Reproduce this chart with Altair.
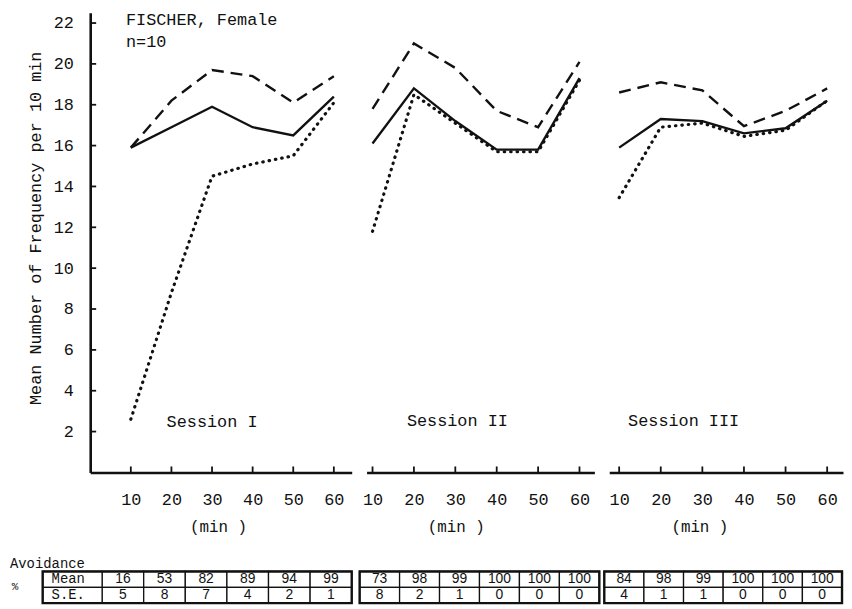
import altair as alt
import pandas as pd

# ---------------- data ----------------
minutes = [10, 20, 30, 40, 50, 60]
y_ticks = [2, 4, 6, 8, 10, 12, 14, 16, 18, 20, 22]
session_labels = ["Session I", "Session II", "Session III"]
series_names = ["solid", "dashed", "dotted"]
header_lines = ["FISCHER, Female", "n=10"]

s1_solid = [15.9, 16.9, 17.9, 16.9, 16.5, 18.4]
s1_dashed = [15.9, 18.2, 19.7, 19.4, 18.1, 19.4]
s1_dotted = [2.6, 8.8, 14.5, 15.1, 15.5, 18.1]

s2_solid = [16.1, 18.8, 17.2, 15.8, 15.8, 19.3]
s2_dashed = [17.8, 21.0, 19.8, 17.7, 16.9, 20.1]
s2_dotted = [11.8, 18.5, 17.1, 15.7, 15.7, 19.2]

s3_solid = [15.9, 17.3, 17.2, 16.6, 16.85, 18.2]
s3_dashed = [18.6, 19.1, 18.7, 16.95, 17.7, 18.8]
s3_dotted = [13.45, 16.9, 17.1, 16.45, 16.75, 18.2]

row_names = ["Mean", "S.E."]
s1_avoid_mean = [16, 53, 82, 89, 94, 99]
s1_avoid_se = [5, 8, 7, 4, 2, 1]
s2_avoid_mean = [73, 98, 99, 100, 100, 100]
s2_avoid_se = [8, 2, 1, 0, 0, 0]
s3_avoid_mean = [84, 98, 99, 100, 100, 100]
s3_avoid_se = [4, 1, 1, 0, 0, 0]

# ---------------- layout / style ----------------
FONT = "Liberation Mono"
NUMFONT = "Liberation Sans"
INK = "#111111"
H = 464
Y_DOMAIN = [0, 22.5]
TABLE_Y = [564, 596]
GAP = 15

PANELS = [
    dict(width=264, domain=[0, 64.4], title_x=129, label_at=(30, 2.45), table_range=[12, 264]),
    dict(width=230, domain=[8.56, 63.6], title_x=90, label_at=(30.5, 2.5), table_range=[-7, 235]),
    dict(width=236, domain=[7.62, 63.81], title_x=91, label_at=(25.5, 2.5), table_range=[-5, 235]),
]


def x_axis(title_x):
    return alt.Axis(values=minutes, title="(min )", grid=False, ticks=False, tickSize=0,
                    domainColor=INK, domainWidth=2.6, labelFont=FONT, labelFontSize=17,
                    labelColor=INK, labelPadding=19, labelAngle=0, labelFlush=False,
                    titleFont=FONT, titleFontSize=16, titleFontWeight="normal",
                    titleColor=INK, titlePadding=12, titleX=title_x)


Y_AXIS = alt.Axis(values=y_ticks, title="Mean Number of Frequency per 10 min", grid=False,
                  ticks=False, tickSize=0, domainColor=INK, domainWidth=2.6,
                  labelFont=FONT, labelFontSize=17, labelColor=INK, labelPadding=17,
                  titleFont=FONT, titleFontSize=17, titleFontWeight="normal",
                  titleColor=INK, titlePadding=9, titleY=217)


def make_panel(idx, solid, dashed, dotted, means, ses):
    cfg = PANELS[idx]
    first = idx == 0
    df = pd.DataFrame({
        "minute": minutes * 3,
        "value": solid + dashed + dotted,
        "series": [s for s in series_names for _ in minutes],
    })
    xenc = alt.X("minute:Q", scale=alt.Scale(domain=cfg["domain"], nice=False, zero=False),
                 axis=x_axis(cfg["title_x"]))
    yenc = alt.Y("value:Q", scale=alt.Scale(domain=Y_DOMAIN, nice=False),
                 axis=Y_AXIS if first else None)

    base = alt.Chart(df).encode(x=xenc, y=yenc)
    l_solid = base.transform_filter(alt.datum.series == "solid").mark_line(
        color=INK, strokeWidth=2.4)
    l_dashed = base.transform_filter(alt.datum.series == "dashed").mark_line(
        color=INK, strokeWidth=2.4, strokeDash=[12, 7])
    l_dotted = base.transform_filter(alt.datum.series == "dotted").mark_line(
        color=INK, strokeWidth=3.2, strokeDash=[0.5, 6], strokeCap="round")

    xticks = alt.Chart(pd.DataFrame({"minute": minutes})).mark_rule(
        color=INK, strokeWidth=1.8).encode(x=xenc, y=alt.value(H), y2=alt.value(H - 6))

    lx, ly = cfg["label_at"]
    sess = alt.Chart(pd.DataFrame({"minute": [lx], "value": [ly],
                                   "label": [session_labels[idx]]})).mark_text(
        font=FONT, fontSize=17, color=INK).encode(x=xenc, y=yenc, text="label:N")

    plot_layers = [l_solid, l_dashed, l_dotted, xticks, sess]
    if first:
        yticks = alt.Chart(pd.DataFrame({"value": y_ticks})).mark_rule(
            color=INK, strokeWidth=1.8).encode(y=yenc, x=alt.value(0), x2=alt.value(6))
        head = alt.Chart(pd.DataFrame({"minute": [8.8, 8.8], "value": [22.15, 21.09],
                                       "label": header_lines})).mark_text(
            font=FONT, fontSize=17, color=INK, align="left").encode(
            x=xenc, y=yenc, text="label:N")
        plot_layers += [yticks, head]
    plot = alt.layer(*plot_layers)

    # ---- avoidance table beneath the panel ----
    tdf = pd.DataFrame({
        "col": list(range(len(minutes))) * 2,
        "row": [row_names[0]] * len(means) + [row_names[1]] * len(ses),
        "val": [str(v) for v in means + ses],
    })
    tx = alt.X("col:O", scale=alt.Scale(range=cfg["table_range"], paddingInner=0,
                                       paddingOuter=0), axis=None)
    ty = alt.Y("row:N", scale=alt.Scale(domain=row_names, range=TABLE_Y, paddingInner=0,
                                       paddingOuter=0), axis=None)
    cells = alt.Chart(tdf).mark_rect(fill="white", stroke=INK, strokeWidth=1.3).encode(x=tx, y=ty)
    ctext = alt.Chart(tdf).mark_text(font=NUMFONT, fontSize=14, color=INK).encode(
        x=tx, y=ty, text="val:N")
    r0, r1 = cfg["table_range"]
    frame_left = -48 if first else r0
    frame = alt.Chart(pd.DataFrame({"k": [0]})).mark_rect(
        fillOpacity=0, stroke=INK, strokeWidth=2.4).encode(
        x=alt.value(frame_left), x2=alt.value(r1), y=alt.value(TABLE_Y[0]), y2=alt.value(TABLE_Y[1]))
    table_layers = [cells, ctext]
    if first:
        ldf = pd.DataFrame({"row": row_names, "label": row_names})
        lrect = alt.Chart(ldf).mark_rect(fill="white", stroke=INK, strokeWidth=1.3).encode(
            x=alt.value(-48), x2=alt.value(12), y=ty)
        ltext = alt.Chart(ldf).mark_text(font=FONT, fontSize=14, color=INK, align="left").encode(
            x=alt.value(-39), y=ty, text="label:N")
        pct = alt.Chart(pd.DataFrame({"label": ["%"]})).mark_text(
            font=FONT, fontSize=11, color=INK).encode(
            x=alt.value(-76), y=alt.value(580), text="label:N")
        avoid = alt.Chart(pd.DataFrame({"label": ["Avoidance"]})).mark_text(
            font=FONT, fontSize=14, color=INK, align="left", baseline="bottom").encode(
            x=alt.value(-81), y=alt.value(563), text="label:N")
        table_layers += [lrect, ltext, pct, avoid]
    table_layers.append(frame)
    table = alt.layer(*table_layers)

    return alt.layer(plot, table).resolve_scale(x="independent", y="independent").properties(
        width=cfg["width"], height=H)


p1 = make_panel(0, s1_solid, s1_dashed, s1_dotted, s1_avoid_mean, s1_avoid_se)
p2 = make_panel(1, s2_solid, s2_dashed, s2_dotted, s2_avoid_mean, s2_avoid_se)
p3 = make_panel(2, s3_solid, s3_dashed, s3_dotted, s3_avoid_mean, s3_avoid_se)

chart = alt.hconcat(p1, p2, p3, spacing=GAP, bounds="flush").properties(
    padding={"left": 2, "top": 0, "right": 0, "bottom": 0}, background="white"
).configure_view(stroke=None)

chart.save("out.html", embed_options={"renderer": "svg", "actions": False})
